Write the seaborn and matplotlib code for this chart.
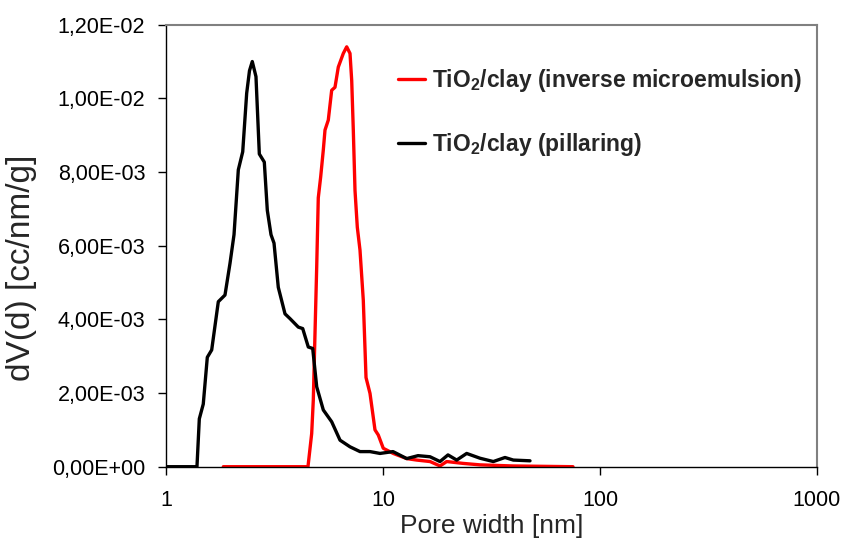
import numpy as np
import pandas as pd
import matplotlib
matplotlib.use("Agg")
import matplotlib.pyplot as plt
import seaborn as sns
from matplotlib.ticker import FuncFormatter, FixedLocator, NullLocator

# ---- data ----
pill_d = [1.0, 1.375, 1.389, 1.424, 1.485, 1.550, 1.624, 1.742, 1.870, 1.972, 2.058,
          2.154, 2.257, 2.354, 2.425, 2.498, 2.598, 2.692, 2.838, 2.930, 3.047, 3.146,
          3.292, 3.535, 3.728, 4.071, 4.266, 4.526, 4.743, 4.949, 5.308, 5.801, 6.338,
          7.046, 7.834, 8.712, 9.687, 11.12, 12.86, 14.50, 16.47, 18.31, 19.93, 21.86,
          24.30, 27.99, 32.24, 36.49, 39.86, 47.58]
pill_v = [0.0, 0.0, 0.0, 1.30e-3, 1.70e-3, 2.97e-3, 3.17e-3, 4.48e-3, 4.66e-3, 5.52e-3, 6.30e-3,
          8.06e-3, 8.55e-3, 1.014e-2, 1.075e-2, 1.100e-2, 1.059e-2, 8.49e-3, 8.27e-3, 6.96e-3, 6.30e-3, 6.07e-3,
          4.87e-3, 4.15e-3, 4.02e-3, 3.79e-3, 3.75e-3, 3.25e-3, 3.21e-3, 2.17e-3, 1.54e-3, 1.22e-3, 0.72e-3,
          0.54e-3, 0.41e-3, 0.41e-3, 0.36e-3, 0.41e-3, 0.22e-3, 0.30e-3, 0.27e-3, 0.14e-3, 0.32e-3, 0.18e-3,
          0.36e-3, 0.23e-3, 0.14e-3, 0.25e-3, 0.18e-3, 0.16e-3]

inv_d = [1.837, 4.511, 4.692, 4.773, 4.860, 4.949, 5.032, 5.162, 5.308, 5.404, 5.596,
         5.801, 6.008, 6.223, 6.562, 6.803, 7.046, 7.175, 7.297, 7.430, 7.614, 7.834,
         8.113, 8.351, 8.712, 9.185, 9.513, 10.03, 11.15, 12.86, 14.30, 16.47, 18.31,
         19.66, 23.37, 27.99, 39.72, 75.08]
inv_v = [0.0, 0.0, 0.9e-3, 1.81e-3, 3.62e-3, 5.43e-3, 7.30e-3, 7.87e-3, 8.6e-3, 9.14e-3, 9.41e-3,
         1.022e-2, 1.03e-2, 1.085e-2, 1.122e-2, 1.14e-2, 1.122e-2, 1.048e-2, 9.14e-3, 7.5e-3, 6.5e-3, 5.88e-3,
         4.52e-3, 2.42e-3, 1.99e-3, 1.0e-3, 0.86e-3, 0.5e-3, 0.36e-3, 0.22e-3, 0.18e-3, 0.14e-3, 0.02e-3,
         0.14e-3, 0.09e-3, 0.05e-3, 0.02e-3, 0.0]

series_names = [r"TiO$_\mathbf{2}$/clay (inverse microemulsion)", r"TiO$_\mathbf{2}$/clay (pillaring)"]
series_colors = ["#ff0000", "#000000"]
x_ticks = [1, 10, 100, 1000]
y_ticks = [0, 0.002, 0.004, 0.006, 0.008, 0.010, 0.012]
x_label = "Pore width [nm]"
y_label = "dV(d) [cc/nm/g]"

df = pd.concat([
    pd.DataFrame({"d": inv_d, "v": inv_v, "s": series_names[0]}),
    pd.DataFrame({"d": pill_d, "v": pill_v, "s": series_names[1]}),
])

sns.set_style("white")
plt.rcParams["font.family"] = ["Liberation Sans", "DejaVu Sans"]
plt.rcParams["mathtext.fontset"] = "custom"
plt.rcParams["mathtext.rm"] = "Liberation Sans"
plt.rcParams["mathtext.bf"] = "Liberation Sans:bold"

W, H = 844, 542
fig = plt.figure(figsize=(W/100, H/100), dpi=100)
ax = fig.add_axes([166/W, 1-466.7/H, (817-166)/W, (466.7-24.7)/H])

sns.lineplot(data=df, x="d", y="v", hue="s", palette=series_colors, hue_order=series_names,
             sort=False, estimator=None, linewidth=2.4, ax=ax, legend=True)

ax.set_xscale("log")
ax.set_xlim(1, 1000)
ax.set_ylim(0, 0.012)
ax.xaxis.set_major_locator(FixedLocator(x_ticks))
ax.xaxis.set_minor_locator(NullLocator())
ax.xaxis.set_major_formatter(FuncFormatter(lambda v, p: f"{v:g}"))
ax.yaxis.set_major_locator(FixedLocator(y_ticks))
ax.yaxis.set_major_formatter(FuncFormatter(lambda v, p: f"{v:.2E}".replace(".", ",")))

ax.tick_params(axis="both", which="major", direction="out", length=6, width=1,
               color="black", labelsize=15.5, labelcolor="black", left=True, bottom=True)
ax.tick_params(axis="x", pad=11)
ax.tick_params(axis="y", pad=9)

for side in ["left", "bottom"]:
    ax.spines[side].set_color("black")
    ax.spines[side].set_linewidth(1.0)
for side in ["top", "right"]:
    ax.spines[side].set_color("#808080")
    ax.spines[side].set_linewidth(1.5)

ax.set_xlabel(x_label, fontsize=19, labelpad=2)
ax.set_ylabel("")
fig.text(22/W, 1-268/H, y_label, rotation=90, ha="center", va="center", fontsize=24)

h, l = ax.get_legend_handles_labels()
leg = ax.legend(h, l, loc="upper left", bbox_to_anchor=((389-166)/651, (466.7-58)/442), frameon=False,
                prop={"weight": "bold", "size": 16.5}, handlelength=1.18, handletextpad=0.3,
                labelspacing=1.6, borderaxespad=0)

fig.savefig("out.png", dpi=100)
